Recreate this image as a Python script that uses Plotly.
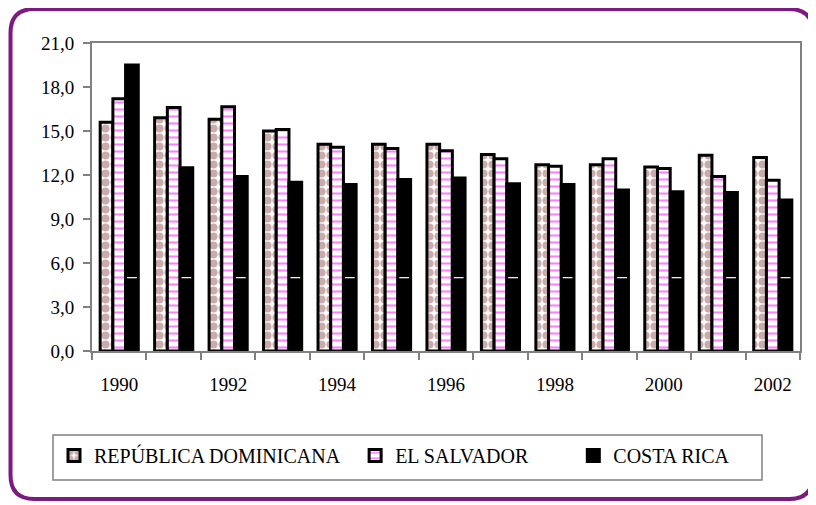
import plotly.graph_objects as go

years = ["1990", "1991", "1992", "1993", "1994", "1995", "1996",
         "1997", "1998", "1999", "2000", "2001", "2002"]
tick_labels = ["1990", "", "1992", "", "1994", "", "1996",
               "", "1998", "", "2000", "", "2002"]
rep_dominicana = [15.6, 15.9, 15.8, 15.0, 14.1, 14.1, 14.1, 13.4, 12.7, 12.7, 12.55, 13.35, 13.2]
el_salvador = [17.2, 16.6, 16.65, 15.1, 13.9, 13.8, 13.65, 13.1, 12.6, 13.1, 12.45, 11.9, 11.65]
costa_rica = [19.5, 12.5, 11.9, 11.5, 11.35, 11.7, 11.8, 11.4, 11.35, 10.97, 10.85, 10.8, 10.3]
marker_line = [5.0] * 13
y_ticks = [0, 3, 6, 9, 12, 15, 18, 21]

# page body has an 8px margin: figure coords = screen coords - 8
OFF = 8
W, H = 816 - OFF, 505 - OFF
L = 92 - OFF
T = 43 - OFF
R = W - (800 - OFF)
B = H - (351 - OFF)
PW, PH = W - L - R, H - T - B
BARGAP = 0.3


def px(x):
    return (x - OFF - L) / PW


def py(y):
    return (H - B - (y - OFF)) / PH


FONT = "Liberation Serif"
NB = "\u00a0"

fig = go.Figure()
fig.add_trace(go.Bar(
    name="REPÚBLICA DOMINICANA" + NB * 2, x=years, y=rep_dominicana,
    marker=dict(color="white", line=dict(color="black", width=3),
                pattern=dict(shape=".", fgcolor="#955757", bgcolor="white",
                             size=9, solidity=0.65)),
))
fig.add_trace(go.Bar(
    name="EL SALVADOR" + NB * 8, x=years, y=el_salvador,
    marker=dict(color="white", line=dict(color="black", width=3),
                pattern=dict(shape="-", fgcolor="#ff00ff", bgcolor="white",
                             size=7, solidity=0.3)),
))
fig.add_trace(go.Bar(
    name="COSTA RICA", x=years, y=costa_rica,
    marker=dict(color="black", line=dict(color="black", width=3)),
))
# small white dash seen inside the Costa Rica bars
offset = (1 - BARGAP) / 3
fig.add_trace(go.Scatter(
    x=[i + offset for i in range(len(years))], y=marker_line, xaxis="x2",
    mode="markers", showlegend=False, hoverinfo="skip",
    marker=dict(symbol="line-ew", size=7, color="white",
                line=dict(color="white", width=1.2)),
))

frame_l, frame_t, frame_r, frame_b, rad = 10.5, 9, 813, 499, 24
path = (f"M {px(frame_l)},{py(frame_t + rad)} "
        f"Q {px(frame_l)},{py(frame_t)} {px(frame_l + rad)},{py(frame_t)} "
        f"L {px(frame_r - rad)},{py(frame_t)} "
        f"Q {px(frame_r)},{py(frame_t)} {px(frame_r)},{py(frame_t + rad)} "
        f"L {px(frame_r)},{py(frame_b - rad)} "
        f"Q {px(frame_r)},{py(frame_b)} {px(frame_r - rad)},{py(frame_b)} "
        f"L {px(frame_l + rad)},{py(frame_b)} "
        f"Q {px(frame_l)},{py(frame_b)} {px(frame_l)},{py(frame_b - rad)} Z")

fig.update_layout(
    width=W, height=H,
    margin=dict(l=L, r=R, t=T, b=B, autoexpand=False),
    paper_bgcolor="white", plot_bgcolor="white",
    separators=",.",
    barmode="group", bargap=BARGAP, bargroupgap=0,
    font=dict(family=FONT, size=19, color="black"),
    xaxis=dict(type="category", tickmode="array", tickvals=years, ticktext=tick_labels,
               tickson="boundaries", ticks="outside", ticklen=7, tickcolor="#808080",
               tickwidth=1.5, showline=True, linecolor="#808080", linewidth=2,
               mirror=True, showgrid=False, ticklabelstandoff=15,
               tickfont=dict(size=19, family=FONT, color="black")),
    xaxis2=dict(overlaying="x", range=[-0.5, 12.5], visible=False),
    yaxis=dict(range=[0, 21], tickvals=y_ticks, tickformat=".1f", ticks="outside",
               ticklen=7, tickcolor="#808080", tickwidth=1.5, showline=True,
               linecolor="#808080", linewidth=2, mirror=True, showgrid=False,
               zeroline=False, ticklabelstandoff=5,
               tickfont=dict(size=19, family=FONT, color="black")),
    legend=dict(orientation="h", x=px(54), xanchor="left", y=py(436), yanchor="top",
                font=dict(size=20, family=FONT, color="black"),
                bgcolor="rgba(0,0,0,0)", borderwidth=0, itemwidth=30),
    shapes=[
        dict(type="rect", xref="paper", yref="paper", x0=px(53), x1=px(762),
             y0=py(435), y1=py(480), line=dict(color="#808080", width=1.5)),
        dict(type="path", xref="paper", yref="paper", path=path,
             line=dict(color="#7d1a80", width=4)),
    ],
)

fig.write_html("out.html")
